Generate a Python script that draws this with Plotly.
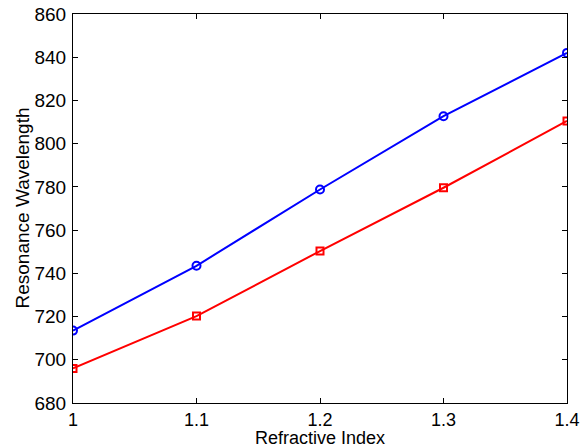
import plotly.graph_objects as go

refractive_index = [1.0, 1.1, 1.2, 1.3, 1.4]
blue_wavelength = [713.5, 743.5, 778.8, 812.7, 842.0]
red_wavelength = [696.0, 720.2, 750.3, 779.6, 810.5]
x_ticks = [1.0, 1.1, 1.2, 1.3, 1.4]
x_tick_text = ["1", "1.1", "1.2", "1.3", "1.4"]
y_ticks = [680, 700, 720, 740, 760, 780, 800, 820, 840, 860]

FONT = "Liberation Sans, Arial"

fig = go.Figure()
fig.add_trace(go.Scatter(
    x=refractive_index, y=blue_wavelength, mode="lines+markers",
    line=dict(color="#0000ff", width=2),
    marker=dict(symbol="circle-open", size=8, color="#0000ff", line=dict(width=2)),
    showlegend=False))
fig.add_trace(go.Scatter(
    x=refractive_index, y=red_wavelength, mode="lines+markers",
    line=dict(color="#ff0000", width=2),
    marker=dict(symbol="square-open", size=7, color="#ff0000", line=dict(width=2)),
    showlegend=False))

axis_common = dict(
    showgrid=False, zeroline=False, showline=True, linecolor="black", linewidth=1,
    mirror="ticks", ticks="inside", ticklen=5, tickcolor="black", automargin=False,
    ticklabeloverflow="allow",
)
fig.update_xaxes(range=[1.0, 1.4], tickvals=x_ticks, ticktext=x_tick_text,
                 tickfont=dict(family=FONT, size=18, color="black"), **axis_common)
fig.update_yaxes(range=[680, 860], tickvals=y_ticks, ticklabelstandoff=2,
                 tickfont=dict(family=FONT, size=19, color="black"), **axis_common)

fig.add_annotation(text="Refractive Index", xref="paper", yref="paper",
                   x=0.5, y=-46 / 389, xanchor="center", yanchor="bottom",
                   showarrow=False, borderpad=0,
                   font=dict(family=FONT, size=18, color="black"))
fig.add_annotation(text="Resonance Wavelength", xref="paper", yref="paper",
                   x=-51 / 494, y=0.5, xanchor="center", yanchor="middle", textangle=-90,
                   showarrow=False, font=dict(family=FONT, size=19, color="black"))

fig.update_layout(
    width=580, height=448, margin=dict(l=73, r=13, t=14, b=45),
    paper_bgcolor="white", plot_bgcolor="white",
)
fig.write_html("out.html")
